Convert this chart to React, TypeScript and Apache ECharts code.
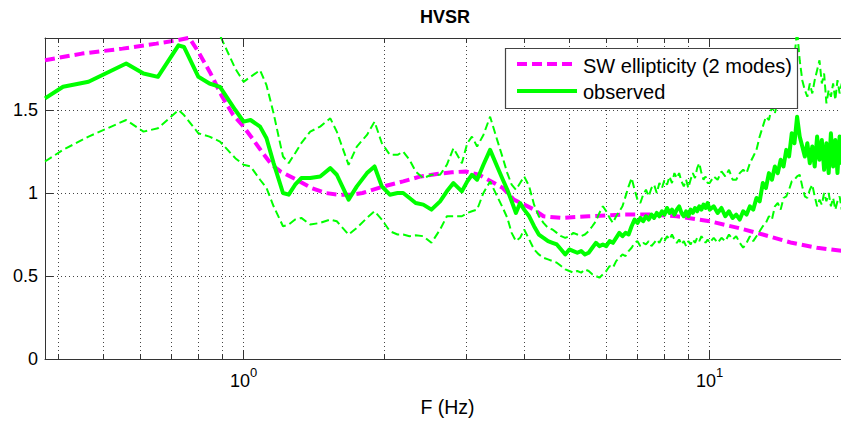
import React, { useEffect, useRef } from 'react';
import * as echarts from 'echarts';

const FONT = '"Liberation Sans", Arial, Helvetica, sans-serif';
const X_MIN = 0.375;
const X_MAX = 20;
const Y_MAX = 1.934;
const Y_TICKS = [0, 0.5, 1, 1.5];
const MINOR_TICKS = [0.4, 0.5, 0.6, 0.7, 0.8, 0.9, 2, 3, 4, 5, 6, 7, 8, 9];
const MAJOR_TICKS = [1, 10];

// shared frequency vector (Hz) of the observed curve and its +/- std curves
const FREQ = [
  0.375, 0.41, 0.465, 0.56, 0.61, 0.655, 0.725, 0.745, 0.8, 0.845,
  0.89, 0.96, 1.0, 1.035, 1.085, 1.12, 1.16, 1.215, 1.25, 1.29,
  1.33, 1.39, 1.46, 1.535, 1.585, 1.68, 1.75, 1.84, 1.91, 1.98,
  2.06, 2.14, 2.2, 2.27, 2.34, 2.43, 2.53, 2.64, 2.73, 2.82,
  2.94, 3.02, 3.09, 3.17, 3.27, 3.38, 3.5, 3.6, 3.68, 3.76,
  3.84, 3.92,
  4.0, 4.1, 4.2, 4.3, 4.4, 4.5, 4.6, 4.7, 4.8, 4.9,
  5.0, 5.1, 5.2, 5.3, 5.4, 5.5, 5.6, 5.7, 5.8, 5.9,
  6.0, 6.1, 6.2, 6.3, 6.4, 6.5, 6.6, 6.7, 6.8, 6.9,
  7.0, 7.1, 7.2, 7.3, 7.4, 7.5, 7.6, 7.7, 7.8, 7.9,
  8.0, 8.1, 8.2, 8.3, 8.4, 8.5, 8.6, 8.7, 8.8, 8.9,
  9.0, 9.1, 9.2, 9.3, 9.4, 9.5, 9.6, 9.7, 9.8, 9.9,
  10.0, 10.2, 10.4, 10.6, 10.8, 11.0, 11.2, 11.4, 11.6, 11.8,
  12.0, 12.2, 12.4, 12.6, 12.8, 13.0, 13.2, 13.4, 13.6, 13.8,
  14.0, 14.2, 14.4, 14.6, 14.8, 15.0, 15.2, 15.4, 15.6, 15.8,
  16.0, 16.2, 16.4, 16.6, 16.8, 17.0, 17.2, 17.4, 17.6, 17.8,
  18.0, 18.2, 18.4, 18.6, 18.8, 19.0, 19.2, 19.4, 19.6, 19.8,
  20.0,
];

const OBSERVED = [
  1.57, 1.64, 1.67, 1.78, 1.72, 1.70, 1.89, 1.88, 1.70, 1.66,
  1.64, 1.50, 1.43, 1.44, 1.40, 1.33, 1.18, 1.00, 0.99, 1.05,
  1.09, 1.09, 1.10, 1.15, 1.11, 0.96, 1.04, 1.12, 1.16, 1.04,
  0.99, 1.00, 1.00, 0.97, 0.94, 0.93, 0.90, 0.95, 1.01, 1.06,
  1.01, 1.07, 1.11, 1.08, 1.17, 1.26, 1.16, 1.08, 1.02, 0.95,
  0.88, 0.94,
  0.90, 0.86, 0.80, 0.75, 0.73, 0.71, 0.70, 0.69, 0.66, 0.63,
  0.66, 0.65, 0.64, 0.65, 0.63, 0.64, 0.67, 0.70, 0.68, 0.69,
  0.68, 0.71, 0.70, 0.73, 0.76, 0.74, 0.76, 0.75, 0.80, 0.84,
  0.82, 0.85, 0.83, 0.86, 0.84, 0.87, 0.85, 0.88, 0.86, 0.89,
  0.87, 0.91, 0.88, 0.90, 0.87, 0.90, 0.92, 0.88, 0.86, 0.89,
  0.86, 0.90, 0.88, 0.91, 0.89, 0.92, 0.90, 0.93, 0.91, 0.94,
  0.90, 0.92, 0.88, 0.91, 0.86, 0.89, 0.85, 0.87, 0.84, 0.89,
  0.87, 0.92, 0.90, 0.97, 0.95, 1.06, 1.03, 1.12, 1.08, 1.16,
  1.12, 1.20, 1.16, 1.26, 1.22, 1.36, 1.30, 1.46, 1.34, 1.28,
  1.22, 1.30, 1.18, 1.28, 1.16, 1.34, 1.20, 1.32, 1.14, 1.30,
  1.12, 1.36, 1.16, 1.32, 1.12, 1.34, 1.18, 1.30, 1.15, 1.28,
  1.20,
];

const OBSERVED_UPPER = [
  1.97, 2.02, 2.00, 2.12, 2.07, 2.01, 2.28, 2.29, 2.04, 1.98,
  1.95, 1.75, 1.67, 1.70, 1.74, 1.65, 1.48, 1.22, 1.18, 1.24,
  1.30, 1.37, 1.40, 1.45, 1.37, 1.17, 1.28, 1.35, 1.43, 1.30,
  1.23, 1.23, 1.25, 1.20, 1.13, 1.09, 1.11, 1.11, 1.17, 1.27,
  1.18, 1.30, 1.34, 1.28, 1.35, 1.46, 1.32, 1.21, 1.12, 1.05,
  1.02, 1.06,
  1.10, 1.04, 0.93, 0.86, 0.82, 0.79, 0.78, 0.76, 0.74, 0.73,
  0.74, 0.76, 0.75, 0.74, 0.75, 0.77, 0.80, 0.83, 0.88, 0.92,
  0.89, 0.85, 0.82, 0.86, 0.89, 0.92, 0.98, 1.04, 1.09, 1.02,
  0.96, 0.94, 0.99, 1.02, 0.98, 1.03, 1.05, 1.00, 1.06, 1.03,
  1.08, 1.05, 1.10, 1.06, 1.12, 1.09, 1.12, 1.07, 1.04, 1.08,
  1.03, 1.08, 1.12, 1.09, 1.15, 1.18, 1.12, 1.08, 1.10, 1.06,
  1.06, 1.10, 1.08, 1.13, 1.10, 1.14, 1.08, 1.08, 1.12, 1.14,
  1.12, 1.18, 1.22, 1.26, 1.34, 1.40, 1.46, 1.44, 1.52, 1.48,
  1.56, 1.60, 1.58, 1.70, 1.66, 1.78, 1.82, 1.98, 1.80, 1.68,
  1.62, 1.58, 1.66, 1.60, 1.68, 1.74, 1.80, 1.66, 1.72, 1.54,
  1.62, 1.58, 1.66, 1.56, 1.68, 1.60, 1.66, 1.58, 1.64, 1.56,
  1.62,
];

const OBSERVED_LOWER = [
  1.19, 1.26, 1.34, 1.44, 1.37, 1.39, 1.50, 1.47, 1.36, 1.34,
  1.31, 1.21, 1.17, 1.16, 1.08, 1.03, 0.92, 0.80, 0.81, 0.84,
  0.85, 0.81, 0.82, 0.84, 0.83, 0.75, 0.79, 0.85, 0.89, 0.84,
  0.77, 0.75, 0.75, 0.74, 0.745, 0.74, 0.70, 0.78, 0.86, 0.86,
  0.86, 0.88, 0.89, 0.90, 1.00, 1.07, 0.98, 0.91, 0.85, 0.76,
  0.71, 0.73,
  0.78, 0.72, 0.66, 0.63, 0.61, 0.60, 0.59, 0.58, 0.56, 0.54,
  0.53, 0.52, 0.53, 0.52, 0.54, 0.53, 0.51, 0.50, 0.49, 0.51,
  0.53, 0.56, 0.55, 0.59, 0.61, 0.63, 0.62, 0.65, 0.67, 0.70,
  0.71, 0.68, 0.70, 0.69, 0.71, 0.68, 0.70, 0.72, 0.70, 0.73,
  0.71, 0.74, 0.72, 0.75, 0.72, 0.70, 0.72, 0.69, 0.71, 0.68,
  0.71, 0.69, 0.72, 0.70, 0.73, 0.71, 0.74, 0.72, 0.70, 0.72,
  0.70, 0.73, 0.70, 0.73, 0.71, 0.75, 0.72, 0.74, 0.70, 0.67,
  0.70, 0.74, 0.71, 0.74, 0.77, 0.80, 0.82, 0.86, 0.84, 0.92,
  0.94, 0.90, 0.97, 0.98, 1.02, 1.07, 1.08, 1.10, 1.11, 1.04,
  0.98, 0.97, 1.02, 1.05, 0.98, 0.92, 0.96, 0.93, 1.00, 0.95,
  1.00, 0.92, 0.97, 0.90, 0.95, 0.98, 0.90, 0.96, 0.92, 0.97,
  0.93,
];

// theoretical surface-wave ellipticity (2 modes)
const SW_FREQ = [
  0.375, 0.45, 0.55, 0.65, 0.72, 0.765, 0.8, 0.85, 0.9, 0.95,
  1.0, 1.05, 1.1, 1.15, 1.2, 1.3, 1.4, 1.5, 1.6, 1.7,
  1.8, 2.0, 2.2, 2.4, 2.6, 2.8, 3.0, 3.2, 3.4, 3.6,
  3.8, 4.0, 4.2, 4.4, 4.8, 5.5, 6.5, 7.5, 8.5, 10,
  11.5, 13, 15, 17, 20,
];
const SW_ELLIPTICITY = [
  1.80, 1.84, 1.87, 1.90, 1.92, 1.935, 1.85, 1.72, 1.58, 1.47,
  1.40, 1.32, 1.24, 1.17, 1.13, 1.08, 1.03, 1.00, 0.99, 0.99,
  1.00, 1.04, 1.07, 1.10, 1.115, 1.125, 1.13, 1.11, 1.07, 1.03,
  0.96, 0.93, 0.90, 0.86, 0.85, 0.86, 0.87, 0.87, 0.86, 0.83,
  0.79, 0.75, 0.70, 0.67, 0.645,
];

const LEGEND_LABELS = ['SW ellipticity (2 modes)', 'observed'];
const MAGENTA = '#ff00ff';
const GREEN = '#00ff00';
const AXIS_COLOR = '#333333';

export default function App() {
  const ref = useRef<HTMLDivElement>(null);

  useEffect(() => {
    const chart = echarts.init(ref.current as HTMLDivElement, null, { renderer: 'svg' });
    const pairs = (xs: number[], ys: number[]) => xs.map((x, i) => [x, ys[i]]);
    const pxY = Y_MAX / 321;

    const gridMarks: any[] = MINOR_TICKS.map((f) => [
      { coord: [f, 0] },
      { coord: [f, Y_MAX] },
    ]);
    const tickMarks: any[] = [];
    MINOR_TICKS.forEach((f) => {
      tickMarks.push([{ coord: [f, 0] }, { coord: [f, 5 * pxY] }]);
      tickMarks.push([{ coord: [f, Y_MAX] }, { coord: [f, Y_MAX - 5 * pxY] }]);
    });

    const option: any = {
      animation: false,
      grid: { left: 45, top: 38, width: 805, height: 321, containLabel: false },
      xAxis: [
        {
          type: 'log',
          logBase: 10,
          min: X_MIN,
          max: X_MAX,
          position: 'bottom',
          axisLine: { show: true, lineStyle: { color: AXIS_COLOR, width: 1 } },
          axisTick: { show: true, inside: true, length: 9, lineStyle: { color: AXIS_COLOR } },
          axisLabel: {
            show: true,
            margin: 7,
            showMinLabel: false,
            showMaxLabel: false,
            formatter: (v: number) => {
              const e = Math.round(Math.log10(v));
              if (!MAJOR_TICKS.includes(v) && Math.abs(v - Math.pow(10, e)) > 1e-9) return '';
              return `{b|10}{s|${e}}`;
            },
            rich: {
              b: { fontSize: 18, lineHeight: 30, color: '#000', fontFamily: FONT },
              s: { fontSize: 13, lineHeight: 12, verticalAlign: 'top', color: '#000', fontFamily: FONT },
            },
          },
          splitLine: { show: true, lineStyle: { type: [1, 3], color: '#444', width: 1 } },
          name: 'F (Hz)',
          nameLocation: 'middle',
          nameGap: 38,
          nameTextStyle: { fontSize: 19.5, color: '#000', fontFamily: FONT },
        },
        {
          type: 'log',
          logBase: 10,
          min: X_MIN,
          max: X_MAX,
          position: 'top',
          axisLine: { show: true, lineStyle: { color: AXIS_COLOR, width: 1 } },
          axisTick: { show: true, inside: true, length: 9, lineStyle: { color: AXIS_COLOR } },
          axisLabel: { show: false },
          splitLine: { show: false },
        },
      ],
      yAxis: [
        {
          type: 'value',
          min: 0,
          max: Y_MAX,
          interval: 0.5,
          axisLine: { show: true, lineStyle: { color: AXIS_COLOR, width: 1 } },
          axisTick: { show: true, inside: true, length: 8, lineStyle: { color: AXIS_COLOR } },
          axisLabel: {
            margin: 7,
            fontSize: 18,
            color: '#000',
            fontFamily: FONT,
            formatter: (v: number) => (Y_TICKS.some((t) => Math.abs(t - v) < 1e-9) ? String(v) : ''),
          },
          splitLine: { show: true, lineStyle: { type: [1, 3], color: '#444', width: 1 } },
        },
      ],
      series: [
        {
          type: 'line',
          name: 'grid',
          data: [],
          silent: true,
          z: 1,
          markLine: {
            silent: true,
            z: 1,
            symbol: ['none', 'none'],
            label: { show: false },
            emphasis: { disabled: true },
            lineStyle: { type: [1, 3], color: '#444', width: 1 },
            data: gridMarks,
          },
        },
        {
          type: 'line',
          name: 'ticks',
          data: [],
          silent: true,
          z: 6,
          markLine: {
            silent: true,
            z: 6,
            symbol: ['none', 'none'],
            label: { show: false },
            emphasis: { disabled: true },
            lineStyle: { type: 'solid', color: AXIS_COLOR, width: 1 },
            data: tickMarks,
          },
        },
        {
          type: 'line',
          name: LEGEND_LABELS[0],
          data: pairs(SW_FREQ, SW_ELLIPTICITY),
          showSymbol: false,
          smooth: false,
          z: 3,
          clip: true,
          lineStyle: { color: MAGENTA, width: 4, type: [10, 5], cap: 'butt' },
          silent: true,
        },
        {
          type: 'line',
          name: 'observed + std',
          data: pairs(FREQ, OBSERVED_UPPER),
          showSymbol: false,
          z: 4,
          clip: true,
          lineStyle: { color: GREEN, width: 2, type: [8, 4] },
          silent: true,
        },
        {
          type: 'line',
          name: 'observed - std',
          data: pairs(FREQ, OBSERVED_LOWER),
          showSymbol: false,
          z: 4,
          clip: true,
          lineStyle: { color: GREEN, width: 2, type: [8, 4] },
          silent: true,
        },
        {
          type: 'line',
          name: LEGEND_LABELS[1],
          data: pairs(FREQ, OBSERVED),
          showSymbol: false,
          z: 5,
          clip: true,
          lineStyle: { color: GREEN, width: 4, type: 'solid', join: 'round' },
          silent: true,
        },
      ],
      graphic: [
        {
          type: 'text',
          x: 445,
          y: 17,
          z: 20,
          style: {
            text: 'HVSR',
            font: `bold 18px ${FONT}`,
            fill: '#000',
            textAlign: 'center',
            textVerticalAlign: 'middle',
          },
        },
        {
          type: 'group',
          z: 20,
          children: [
            {
              type: 'rect',
              shape: { x: 505.5, y: 48.5, width: 292, height: 60 },
              style: { fill: '#fff', stroke: '#444', lineWidth: 1.2 },
              z: 20,
            },
            {
              type: 'line',
              shape: { x1: 517, y1: 64, x2: 577, y2: 64 },
              style: { stroke: MAGENTA, lineWidth: 4, lineDash: [10, 5] },
              z: 21,
            },
            {
              type: 'line',
              shape: { x1: 517, y1: 91, x2: 577, y2: 91 },
              style: { stroke: GREEN, lineWidth: 4 },
              z: 21,
            },
            {
              type: 'text',
              x: 583,
              y: 65.5,
              z: 21,
              style: {
                text: LEGEND_LABELS[0],
                font: `20px ${FONT}`,
                fill: '#000',
                textAlign: 'left',
                textVerticalAlign: 'middle',
              },
            },
            {
              type: 'text',
              x: 583,
              y: 91.5,
              z: 21,
              style: {
                text: LEGEND_LABELS[1],
                font: `20px ${FONT}`,
                fill: '#000',
                textAlign: 'left',
                textVerticalAlign: 'middle',
              },
            },
          ],
        },
      ],
    };

    chart.setOption(option);
    return () => {
      chart.dispose();
    };
  }, []);

  return (
    <div
      ref={ref}
      style={{ position: 'fixed', left: 0, top: 0, width: 860, height: 423, background: '#fff' }}
    />
  );
}
